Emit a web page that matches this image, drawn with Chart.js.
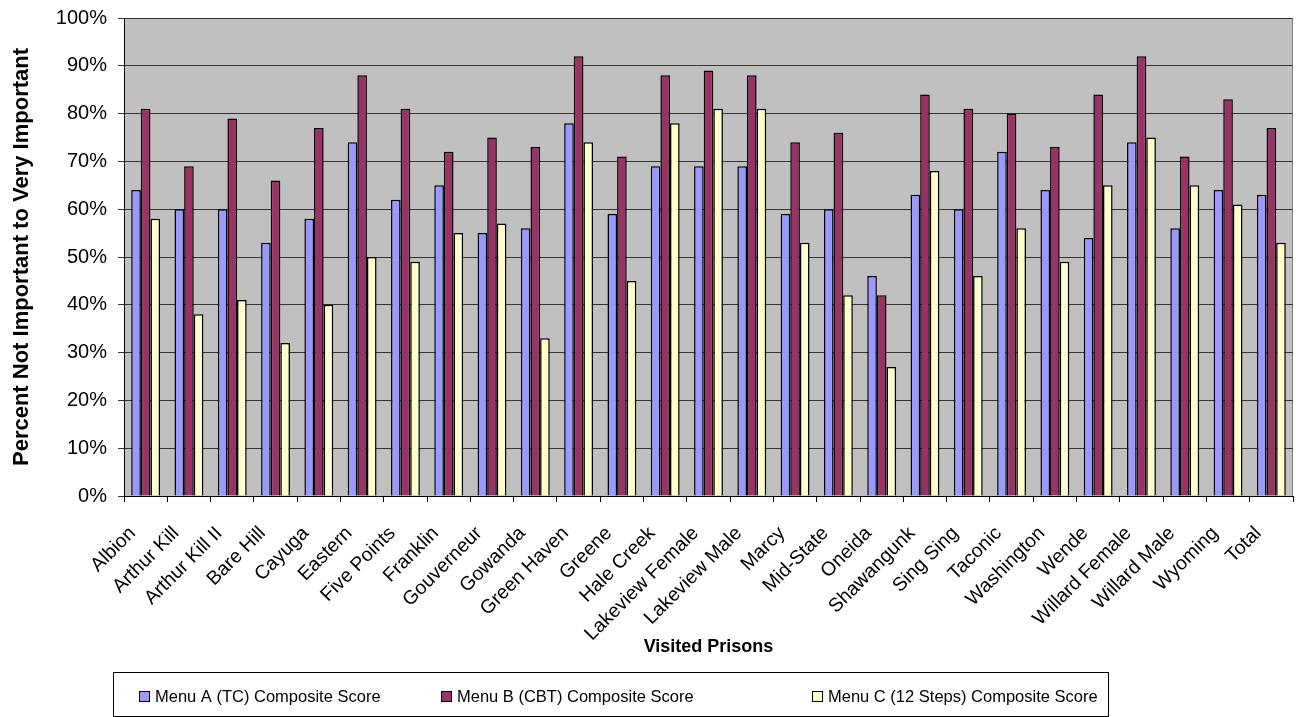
<!DOCTYPE html>
<html>
<head>
<meta charset="utf-8">
<script src="https://cdn.jsdelivr.net/npm/chart.js@4/dist/chart.umd.min.js"></script>
<style>
  body { margin: 0; background: #fff; }
  #wrap { width: 1296px; height: 717px; }
</style>
</head>
<body>
<div id="wrap"><canvas id="chart"></canvas></div>
<script>
// prisons on the x axis
var prisons = ["Albion", "Arthur Kill", "Arthur Kill II", "Bare Hill", "Cayuga", "Eastern",
  "Five Points", "Franklin", "Gouverneur", "Gowanda", "Green Haven", "Greene", "Hale Creek",
  "Lakeview Female", "Lakeview Male", "Marcy", "Mid-State", "Oneida", "Shawangunk",
  "Sing Sing", "Taconic", "Washington", "Wende", "Willard Female", "Willard Male",
  "Wyoming", "Total"];

var seriesNames = ["Menu A (TC) Composite Score", "Menu B (CBT) Composite Score",
  "Menu C (12 Steps) Composite Score"];

var menuA = [64, 60, 60, 53, 58, 74, 62, 65, 55, 56, 78, 59, 69, 69, 69, 59, 60, 46, 63, 60, 72, 64, 54, 74, 56, 64, 63];
var menuB = [81, 69, 79, 66, 77, 88, 81, 72, 75, 73, 92, 71, 88, 89, 88, 74, 76, 42, 84, 81, 80, 73, 84, 92, 71, 83, 77];
var menuC = [58, 38, 41, 32, 40, 50, 49, 55, 57, 33, 74, 45, 78, 81, 81, 53, 42, 27, 68, 46, 56, 49, 65, 75, 65, 61, 53];

var yTicks = [0, 10, 20, 30, 40, 50, 60, 70, 80, 90, 100];

var colors = ["#9999FF", "#993366", "#FFFFCC"];
var FONT = "'Liberation Sans', Arial, sans-serif";

// grey plot background + thin grey frame
var plotBg = {
  id: "plotBg",
  beforeDraw: function(chart) {
    var a = chart.chartArea, ctx = chart.ctx;
    ctx.save();
    ctx.fillStyle = "#C0C0C0";
    ctx.fillRect(a.left, a.top, a.right - a.left, a.bottom - a.top);
    ctx.strokeStyle = "#808080";
    ctx.lineWidth = 1;
    ctx.strokeRect(Math.round(a.left) + 0.5, Math.round(a.top) + 0.5,
      Math.round(a.right - a.left) - 1, Math.round(a.bottom - a.top));
    ctx.restore();
  }
};

// boxed legend like the excel one
var boxLegend = {
  id: "boxLegend",
  afterDraw: function(chart) {
    var ctx = chart.ctx;
    var itemX = [139, 441, 812];
    ctx.save();
    ctx.strokeStyle = "#000";
    ctx.lineWidth = 1;
    ctx.strokeRect(113.5, 672.5, 995, 44);
    ctx.font = "16.5px " + FONT;
    ctx.textBaseline = "middle";
    chart.data.datasets.forEach(function(ds, i) {
      ctx.fillStyle = ds.backgroundColor;
      ctx.fillRect(itemX[i] + 0.5, 691.5, 10, 10);
      ctx.strokeStyle = "#000";
      ctx.strokeRect(itemX[i] + 0.5, 691.5, 10, 10);
      ctx.fillStyle = "#000";
      ctx.fillText(ds.label, itemX[i] + 16, 697);
    });
    ctx.restore();
  }
};

var datasets = [menuA, menuB, menuC].map(function(vals, i) {
  return {
    label: seriesNames[i],
    data: vals,
    backgroundColor: colors[i],
    borderColor: "#000",
    borderWidth: 1.5,
    categoryPercentage: 3 / 4.5,
    barPercentage: 1
  };
});

new Chart(document.getElementById("chart"), {
  type: "bar",
  data: { labels: prisons, datasets: datasets },
  options: {
    responsive: true,
    maintainAspectRatio: false,
    animation: false,
    layout: { padding: { top: 18, right: 3, bottom: 55, left: 0 } },
    plugins: {
      legend: { display: false },
      tooltip: { enabled: false }
    },
    scales: {
      x: {
        grid: { drawOnChartArea: false, tickLength: 6, color: "#000" },
        border: { color: "#000" },
        ticks: {
          color: "#000",
          font: { family: FONT, size: 19.5 },
          minRotation: 45,
          maxRotation: 45,
          autoSkip: false,
          padding: 20,
          labelOffset: -13
        },
        title: {
          display: true,
          text: "Visited Prisons",
          color: "#000",
          font: { family: FONT, size: 18, weight: "bold" },
          padding: { top: 4, bottom: 4 }
        },
        afterFit: function(scale) {
          scale.height = 166;
          scale.paddingLeft = 0;
          scale.paddingRight = 0;
        }
      },
      y: {
        min: 0,
        max: 100,
        afterBuildTicks: function(scale) {
          scale.ticks = yTicks.map(function(v) { return { value: v }; });
        },
        grid: { color: "#333", tickLength: 6 },
        border: { color: "#000" },
        ticks: {
          color: "#000",
          font: { family: FONT, size: 20 },
          padding: 11,
          callback: function(v) { return v + "%"; }
        },
        title: {
          display: true,
          text: "Percent Not Important to Very Important",
          color: "#000",
          font: { family: FONT, size: 22, weight: "bold" },
          padding: { top: 9, bottom: 4 }
        },
        afterFit: function(scale) {
          scale.width = 124;
          scale.paddingTop = 0;
          scale.paddingBottom = 0;
        }
      }
    }
  },
  plugins: [plotBg, boxLegend]
});
</script>
</body>
</html>
